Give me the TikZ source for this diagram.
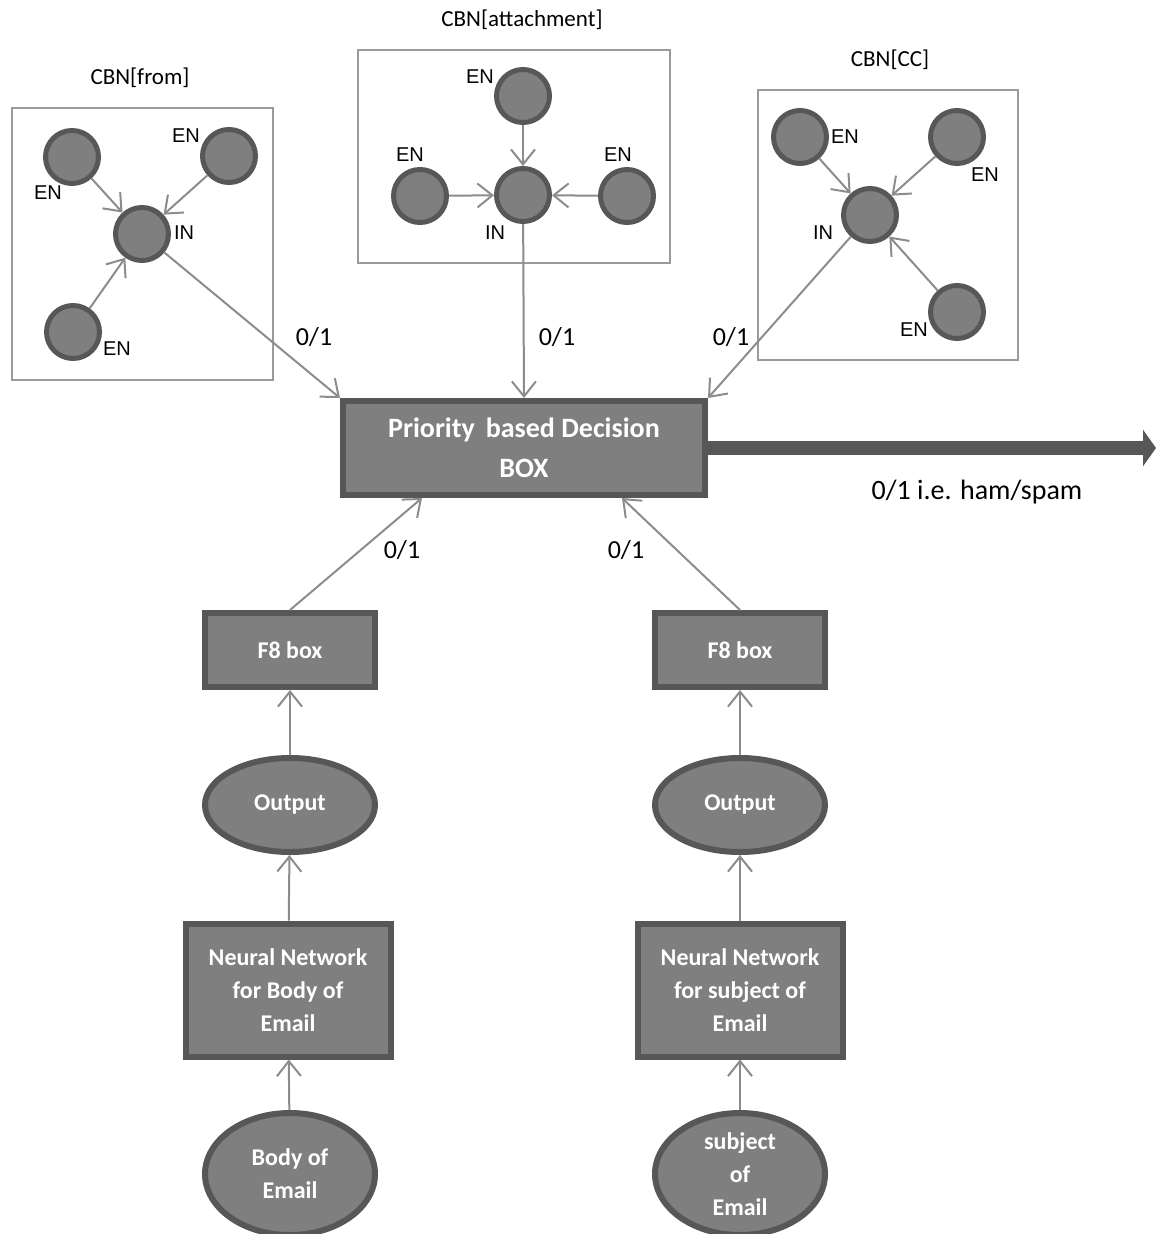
\documentclass[tikz,border=0pt]{standalone}
\usepackage{fontspec}
\setmainfont{Carlito}
\newfontfamily\arialfont{Liberation Sans}
\usetikzlibrary{arrows.meta,shapes.geometric}
\definecolor{fillgray}{HTML}{7F7F7F}
\definecolor{rimgray}{HTML}{575757}
\definecolor{wiregray}{HTML}{8C8C8C}
\definecolor{framegray}{HTML}{9A9A9A}

\begin{document}
\begin{tikzpicture}[x=1pt, y=-1pt,
  cnode/.style={circle, fill=fillgray, draw=rimgray, line width=5pt, minimum size=53pt, inner sep=0pt},
  frame/.style={draw=framegray, line width=1.6pt},
  dbox/.style={rectangle, fill=fillgray, draw=rimgray, line width=6pt, text=white, align=center,
    font=\bfseries\fontsize{24}{33}\selectfont},
  doval/.style={ellipse, fill=fillgray, draw=rimgray, line width=6pt, text=white, align=center,
    inner sep=0pt, font=\bfseries\fontsize{24}{33}\selectfont},
  link/.style={draw=wiregray, line width=2pt, -{Straight Barb[length=15pt, width=24pt]}},
  bigarrow/.style={draw=rimgray, line width=14pt, -{Triangle[length=13pt, width=36pt]}},
  en/.style={font=\arialfont\fontsize{20}{20}\selectfont},
  title/.style={font=\fontsize{23}{23}\selectfont},
  bit/.style={font=\fontsize{26}{26}\selectfont}]
\useasboundingbox (0,0) rectangle (1156,1234);

% CBN[from]
\draw[frame] (12,108) rectangle (273,380);
\node[title] (from-title) at (140,78) {CBN[from]};
\node[cnode] (from-en1) at (72,157) {};
\node[cnode] (from-en2) at (229,156) {};
\node[cnode] (from-in) at (142,234) {};
\node[cnode] (from-en3) at (73,332) {};
\node[en] (from-l1) at (48,193) {EN};
\node[en] (from-l2) at (186,136) {EN};
\node[en] (from-l3) at (184,233) {IN};
\node[en] (from-l4) at (117,349) {EN};
\draw[link] (from-en1) -- (from-in);
\draw[link] (from-en2) -- (from-in);
\draw[link] (from-en3) -- (from-in);

% CBN[attachment]
\draw[frame] (358,50) rectangle (670,263);
\node[title] (att-title) at (522,20) {CBN[attachment]};
\node[cnode] (att-en1) at (523,96) {};
\node[cnode] (att-en2) at (420,196) {};
\node[cnode] (att-in) at (523,195) {};
\node[cnode] (att-en3) at (627,196) {};
\node[en] (att-l1) at (480,77) {EN};
\node[en] (att-l2) at (410,155) {EN};
\node[en] (att-l3) at (618,155) {EN};
\node[en] (att-l4) at (495,233) {IN};
\draw[link] (att-en1) -- (att-in);
\draw[link] (att-en2) -- (att-in);
\draw[link] (att-en3) -- (att-in);

% CBN[CC]
\draw[frame] (758,90) rectangle (1018,360);
\node[title] (cc-title) at (890,60) {CBN[CC]};
\node[cnode] (cc-en1) at (800,137) {};
\node[cnode] (cc-en2) at (957,137) {};
\node[cnode] (cc-in) at (870,215) {};
\node[cnode] (cc-en3) at (957,312) {};
\node[en] (cc-l1) at (845,137) {EN};
\node[en] (cc-l2) at (985,175) {EN};
\node[en] (cc-l3) at (823,233) {IN};
\node[en] (cc-l4) at (914,330) {EN};
\draw[link] (cc-en1) -- (cc-in);
\draw[link] (cc-en2) -- (cc-in);
\draw[link] (cc-en3) -- (cc-in);

% decision box
\node[dbox, minimum width=362pt, minimum height=94pt, font=\bfseries\fontsize{28}{40}\selectfont]
  (dec) at (524,448) {Priority\, based Decision\\BOX};
\coordinate (out) at (1156,448);
\draw[bigarrow] (dec.east |- out) -- (out);
\node[font=\fontsize{28}{28}\selectfont] (verdict) at (977,492) {0/1 i.e. ham/spam};

\draw[link] (from-in) -- (dec.north west);
\draw[link] (att-in) -- (dec.north);
\draw[link] (cc-in) -- (dec.north east);
\node[bit] (bit1) at (314,337) {0/1};
\node[bit] (bit2) at (557,337) {0/1};
\node[bit] (bit3) at (731,337) {0/1};

% body branch
\node[dbox, minimum width=170pt, minimum height=74pt] (fb-body) at (290,650) {F8 box};
\node[doval, minimum width=170pt, minimum height=94pt] (out-body) at (290,805) {Output};
\node[dbox, minimum width=205pt, minimum height=133pt] (nn-body) at (288,990) {Neural Network\\for Body of\\Email};
\node[doval, minimum width=170pt, minimum height=122pt] (in-body) at (290,1174) {Body of\\Email};
\draw[link] (in-body) -- (nn-body);
\draw[link] (nn-body) -- (out-body);
\draw[link] (out-body) -- (fb-body);
\draw[link] (fb-body.north) -- ([xshift=-102pt]dec.south);
\node[bit] (bit4) at (402,550) {0/1};

% subject branch
\node[dbox, minimum width=170pt, minimum height=74pt] (fb-subj) at (740,650) {F8 box};
\node[doval, minimum width=170pt, minimum height=94pt] (out-subj) at (740,805) {Output};
\node[dbox, minimum width=205pt, minimum height=133pt] (nn-subj) at (740,990) {Neural Network\\for subject of\\Email};
\node[doval, minimum width=170pt, minimum height=122pt] (in-subj) at (740,1174) {subject\\of\\Email};
\draw[link] (in-subj) -- (nn-subj);
\draw[link] (nn-subj) -- (out-subj);
\draw[link] (out-subj) -- (fb-subj);
\draw[link] (fb-subj.north) -- ([xshift=98pt]dec.south);
\node[bit] (bit5) at (626,550) {0/1};
\end{tikzpicture}
\end{document}
